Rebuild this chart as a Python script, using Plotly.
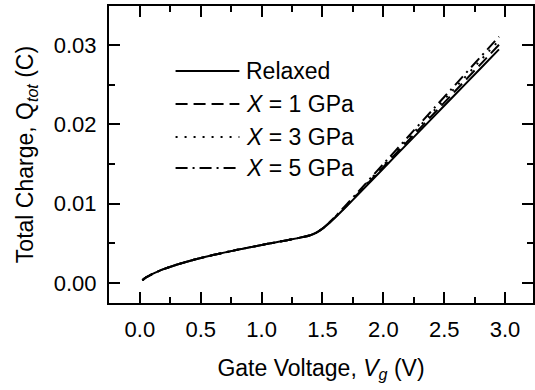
import plotly.graph_objects as go

# Gate voltage grid (V)
vg = [0.02, 0.05, 0.1, 0.15, 0.2, 0.3, 0.4, 0.5, 0.6, 0.7, 0.8, 0.9, 1.0, 1.1, 1.2,
      1.3, 1.35, 1.4, 1.45, 1.5, 1.55, 1.6, 1.7, 1.8, 2.0, 2.2, 2.4, 2.6, 2.8, 2.95]

# Total charge (C)
q_relaxed = [0.00035, 0.00070, 0.00112, 0.00147, 0.00178, 0.00230, 0.00275, 0.00315, 0.00352,
             0.00386, 0.00418, 0.00449, 0.00479, 0.00508, 0.00537, 0.00566, 0.00582, 0.00602,
             0.00635, 0.00685, 0.00748, 0.00818, 0.00970, 0.01128, 0.01444, 0.01760, 0.02076,
             0.02392, 0.02708, 0.02945]
q_1gpa = [0.00035, 0.00070, 0.00112, 0.00147, 0.00178, 0.00230, 0.00275, 0.00315, 0.00352,
          0.00386, 0.00418, 0.00449, 0.00479, 0.00508, 0.00537, 0.00566, 0.00582, 0.00602,
          0.00635, 0.00686, 0.00750, 0.00822, 0.00978, 0.01140, 0.01464, 0.01788, 0.02112,
          0.02436, 0.02760, 0.03003]
q_3gpa = [0.00035, 0.00070, 0.00112, 0.00147, 0.00178, 0.00230, 0.00275, 0.00315, 0.00352,
          0.00386, 0.00418, 0.00449, 0.00479, 0.00508, 0.00537, 0.00566, 0.00582, 0.00602,
          0.00635, 0.00686, 0.00752, 0.00826, 0.00986, 0.01150, 0.01482, 0.01814, 0.02146,
          0.02478, 0.02810, 0.03059]
q_5gpa = [0.00035, 0.00070, 0.00112, 0.00147, 0.00178, 0.00230, 0.00275, 0.00315, 0.00352,
          0.00386, 0.00418, 0.00449, 0.00479, 0.00508, 0.00537, 0.00566, 0.00582, 0.00602,
          0.00636, 0.00688, 0.00755, 0.00830, 0.00994, 0.01162, 0.01500, 0.01838, 0.02176,
          0.02514, 0.02852, 0.03105]

series_names = ["Relaxed", "<i>X</i> = 1 GPa", "<i>X</i> = 3 GPa", "<i>X</i> = 5 GPa"]
series_vals = [q_relaxed, q_1gpa, q_3gpa, q_5gpa]
dashes = ["solid", "12px,6px", "2px,7px", "12px,5px,2px,5px"]

FONT = "Liberation Sans, Arial, sans-serif"

fig = go.Figure()
for name, vals, d in zip(series_names, series_vals, dashes):
    fig.add_trace(go.Scatter(x=vg, y=vals, mode="lines", name=name,
                             line=dict(color="black", width=2, dash=d, shape="spline",
                                       smoothing=0.6),
                             showlegend=False))

# Manual legend (longer line samples than Plotly's built-in legend)
leg_y = [0.781, 0.670, 0.559, 0.4545]
for name, d, yy in zip(series_names, dashes, leg_y):
    fig.add_shape(type="line", xref="paper", yref="paper", x0=0.157, x1=0.3075,
                  y0=yy, y1=yy, line=dict(color="black", width=2, dash=d))
    fig.add_annotation(xref="paper", yref="paper", x=0.319, y=yy, text=name,
                       showarrow=False, xanchor="left", yanchor="middle",
                       font=dict(family=FONT, size=23, color="black"))

axis_common = dict(showline=True, linecolor="black", linewidth=2, mirror="ticks",
                   ticks="inside", ticklen=11, tickwidth=2, tickcolor="black",
                   showgrid=False, zeroline=False,
                   tickfont=dict(family=FONT, size=22, color="black"))

fig.update_xaxes(**axis_common, range=[-0.254, 3.2295], tick0=0, dtick=0.5,
                 tickformat=".1f", ticklabelstandoff=6,
                 minor=dict(ticks="inside", ticklen=6, tickwidth=2, tickcolor="black",
                            dtick=0.25, tick0=0),
                 title=dict(text="Gate Voltage, <i>V</i><sub><i>g</i></sub> (V)",
                            font=dict(family=FONT, size=23, color="black"), standoff=18))
fig.update_yaxes(**axis_common, range=[-0.00252, 0.03492], tick0=0, dtick=0.01,
                 tickformat=".2f", ticklabelstandoff=6,
                 minor=dict(ticks="inside", ticklen=6, tickwidth=2, tickcolor="black",
                            dtick=0.005, tick0=0),
                 title=dict(text="Total Charge, Q<sub><i>tot</i></sub> (C)",
                            font=dict(family=FONT, size=23, color="black"), standoff=14))

fig.update_layout(width=535, height=390, margin=dict(l=109, r=0, t=6, b=87),
                  plot_bgcolor="white", paper_bgcolor="white")

fig.write_html("out.html")
